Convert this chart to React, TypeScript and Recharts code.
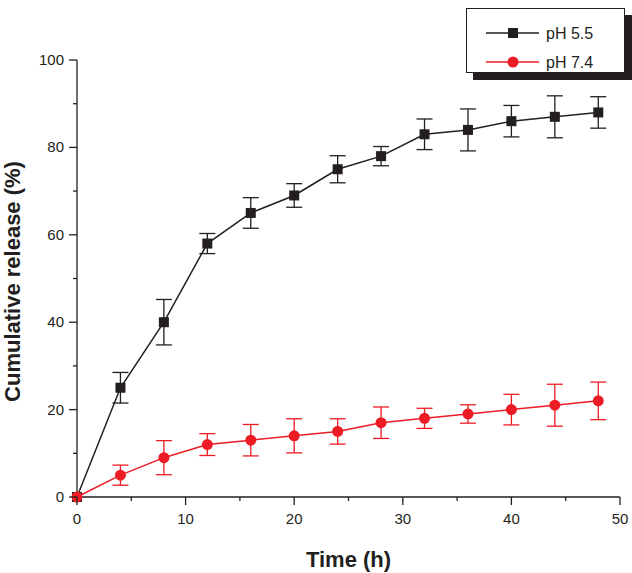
import React from 'react';
import {
  LineChart,
  Line,
  XAxis,
  YAxis,
  ErrorBar,
  Label,
} from 'recharts';

document.body.style.margin = '0';

const times = [0, 4, 8, 12, 16, 20, 24, 28, 32, 36, 40, 44, 48];
const ph55 = [0, 25, 40, 58, 65, 69, 75, 78, 83, 84, 86, 87, 88];
const ph55Err = [0, 3.5, 5.2, 2.3, 3.5, 2.7, 3.1, 2.2, 3.5, 4.8, 3.6, 4.8, 3.6];
const ph74 = [0, 5, 9, 12, 13, 14, 15, 17, 18, 19, 20, 21, 22];
const ph74Err = [0, 2.3, 3.9, 2.5, 3.6, 3.9, 2.9, 3.6, 2.3, 2.1, 3.5, 4.8, 4.3];

const xTicks = [0, 5, 10, 15, 20, 25, 30, 35, 40, 45, 50];
const yTicks = [0, 10, 20, 30, 40, 50, 60, 70, 80, 90, 100];

const seriesNames = ['pH 5.5', 'pH 7.4'];

const BLACK = '#231f20';
const RED = '#ed1c24';
const FONT = '"Liberation Sans", Arial, Helvetica, sans-serif';

const chartData = times.map((t, i) => ({
  time: t,
  ph55: ph55[i],
  ph55Err: ph55Err[i],
  ph74: ph74[i],
  ph74Err: ph74Err[i],
}));

// tick marks drawn by hand so majors (labelled) are longer than minors
function XTick(props: any) {
  const { x, y, payload } = props;
  const major = payload.value % 10 === 0;
  return (
    <g>
      <line x1={x} y1={y} x2={x} y2={y + (major ? 8 : 4)} stroke={BLACK} strokeWidth={1.3} />
      {major && (
        <text x={x} y={y + 27} textAnchor="middle" fontSize={15} fill={BLACK} fontFamily={FONT}>
          {payload.value}
        </text>
      )}
    </g>
  );
}

function YTick(props: any) {
  const { x, y, payload } = props;
  const major = payload.value % 20 === 0;
  return (
    <g>
      <line x1={x} y1={y} x2={x - (major ? 8 : 4)} y2={y} stroke={BLACK} strokeWidth={1.3} />
      {major && (
        <text x={x - 13} y={y + 5} textAnchor="end" fontSize={15} fill={BLACK} fontFamily={FONT}>
          {payload.value}
        </text>
      )}
    </g>
  );
}

function SquareDot(props: any) {
  const { cx, cy } = props;
  if (cx == null || cy == null) return null;
  return <rect x={cx - 5} y={cy - 5} width={10} height={10} fill={BLACK} />;
}

function CircleDot(props: any) {
  const { cx, cy } = props;
  if (cx == null || cy == null) return null;
  return <circle cx={cx} cy={cy} r={5.5} fill={RED} />;
}

function XTitle(props: any) {
  const { viewBox } = props;
  const cx = viewBox.x + viewBox.width / 2;
  return (
    <text x={cx} y={567} textAnchor="middle" fontSize={22} fontWeight="bold" fill={BLACK} fontFamily={FONT}>
      Time (h)
    </text>
  );
}

function YTitle(props: any) {
  const { viewBox } = props;
  const cy = viewBox.y + viewBox.height / 2 + 3;
  return (
    <text
      x={20}
      y={cy}
      transform={`rotate(-90 20 ${cy})`}
      textAnchor="middle"
      fontSize={22}
      fontWeight="bold"
      fill={BLACK}
      fontFamily={FONT}
    >
      Cumulative release (%)
    </text>
  );
}

function LegendBox() {
  const rows = [
    { name: seriesNames[0], color: BLACK, square: true },
    { name: seriesNames[1], color: RED, square: false },
  ];
  return (
    <div
      style={{
        position: 'absolute',
        left: 466,
        top: 8,
        width: 157,
        height: 63,
        border: `1.3px solid ${BLACK}`,
        background: '#fff',
        boxShadow: `7px 7px 0 ${BLACK}`,
      }}
    >
      <svg width={157} height={63} style={{ display: 'block' }}>
        {rows.map((r, i) => {
          const y = 24 + i * 29;
          return (
            <g key={r.name}>
              <line x1={19} y1={y} x2={72} y2={y} stroke={r.color} strokeWidth={1.3} />
              {r.square ? (
                <rect x={41} y={y - 5} width={10} height={10} fill={r.color} />
              ) : (
                <circle cx={46} cy={y} r={5.5} fill={r.color} />
              )}
              <text x={79} y={y + 6} fontSize={16} fill={BLACK} fontFamily={FONT}>
                {r.name}
              </text>
            </g>
          );
        })}
      </svg>
    </div>
  );
}

export default function App() {
  return (
    <div style={{ position: 'relative', width: 632, height: 573, background: '#fff' }}>
      <LineChart
        width={632}
        height={573}
        data={chartData}
        margin={{ top: 60, right: 12, left: 0, bottom: 0 }}
      >
        <XAxis
          dataKey="time"
          type="number"
          domain={[0, 50]}
          ticks={xTicks}
          interval={0}
          height={76}
          tickSize={0}
          tickMargin={0}
          tickLine={false}
          tick={<XTick />}
          axisLine={{ stroke: BLACK, strokeWidth: 1.3 }}
        >
          <Label content={<XTitle />} />
        </XAxis>
        <YAxis
          type="number"
          domain={[0, 100]}
          ticks={yTicks}
          interval={0}
          width={77}
          tickSize={0}
          tickMargin={0}
          tickLine={false}
          tick={<YTick />}
          axisLine={{ stroke: BLACK, strokeWidth: 1.3 }}
        >
          <Label content={<YTitle />} />
        </YAxis>
        <Line
          dataKey="ph55"
          name={seriesNames[0]}
          stroke={BLACK}
          strokeWidth={1.5}
          dot={<SquareDot />}
          activeDot={false}
          isAnimationActive={false}
        >
          <ErrorBar dataKey="ph55Err" direction="y" width={8} stroke={BLACK} strokeWidth={1.3} />
        </Line>
        <Line
          dataKey="ph74"
          name={seriesNames[1]}
          stroke={RED}
          strokeWidth={1.5}
          dot={<CircleDot />}
          activeDot={false}
          isAnimationActive={false}
        >
          <ErrorBar dataKey="ph74Err" direction="y" width={8} stroke={RED} strokeWidth={1.3} />
        </Line>
      </LineChart>
      <LegendBox />
    </div>
  );
}
